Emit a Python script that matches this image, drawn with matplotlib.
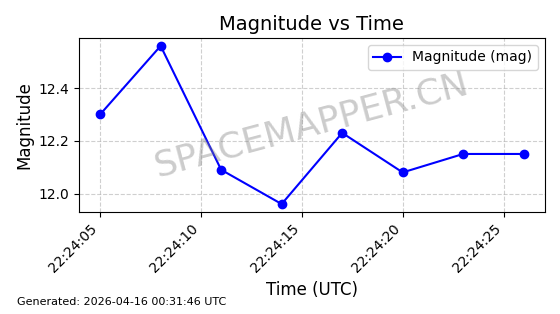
import numpy as np
import pandas as pd
import matplotlib
matplotlib.use("Agg")
import matplotlib.pyplot as plt
import matplotlib.dates as mdates

# observation times (UTC) and magnitudes
times = ["22:24:05", "22:24:08", "22:24:11", "22:24:14",
         "22:24:17", "22:24:20", "22:24:23", "22:24:26"]
mags = [12.30, 12.56, 12.09, 11.96, 12.23, 12.08, 12.15, 12.15]

t = pd.to_datetime(["2026-04-15 " + s for s in times])

fig, ax = plt.subplots(figsize=(5.6, 3.14), dpi=100)
ax.plot(t, mags, 'o-', color='blue', label='Magnitude (mag)')

ax.set_title("Magnitude vs Time", fontsize=14)
ax.set_xlabel("Time (UTC)", fontsize=12)
ax.set_ylabel("Magnitude", fontsize=12)
ax.grid(True, linestyle='--', alpha=0.6)
ax.legend(loc='upper right')

ax.xaxis.set_major_locator(mdates.SecondLocator(bysecond=range(0, 60, 5)))
ax.xaxis.set_major_formatter(mdates.DateFormatter('%H:%M:%S'))
plt.setp(ax.get_xticklabels(), rotation=45, ha='right')

ax.text(0.5, 0.5, "SPACEMAPPER.CN", transform=ax.transAxes,
        fontsize=26, color='gray', alpha=0.4, rotation=15,
        ha='center', va='center')

fig.subplots_adjust(left=0.141, right=0.973, top=0.879, bottom=0.325)
fig.text(0.03, 0.03, "Generated: 2026-04-16 00:31:46 UTC", fontsize=8)

plt.savefig("out.png", dpi=100)
